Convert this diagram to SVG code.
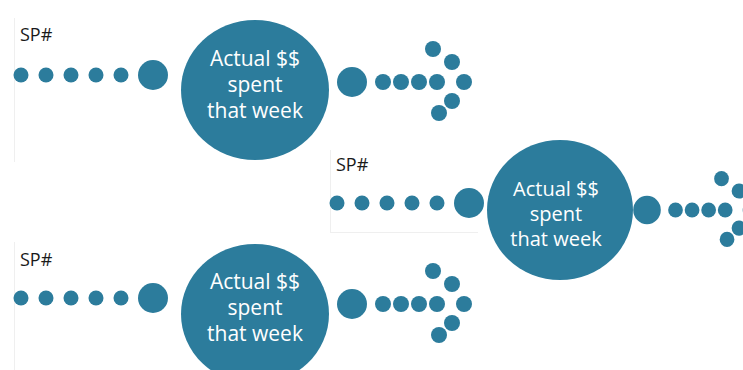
<svg xmlns="http://www.w3.org/2000/svg" width="743" height="370" viewBox="0 0 743 370">
<style>
.bg{fill:#ffffff}
.edge{stroke:#efefef;stroke-width:1;fill:none}
.dot{fill:#2c7c9c}
.big{fill:#2c7c9c}
.lbl{font-family:"Open Sans","Noto Sans",sans-serif;font-size:18px;fill:#1a1a1a}
.ct{font-family:"Open Sans","Noto Sans",sans-serif;font-size:21px;fill:#ffffff;text-anchor:middle}
.ct2{font-family:"Open Sans","Noto Sans",sans-serif;font-size:20px;fill:#ffffff;text-anchor:middle}
</style>
<defs>
<g id="chain">
<circle class="dot" cx="0" cy="0" r="7.5"/>
<circle class="dot" cx="25" cy="0" r="7.5"/>
<circle class="dot" cx="50" cy="0" r="7.5"/>
<circle class="dot" cx="75" cy="0" r="7.5"/>
<circle class="dot" cx="100" cy="0" r="7.5"/>
<circle class="dot" cx="132" cy="0" r="15"/>
</g>
<g id="arrow">
<circle class="dot" cx="0" cy="0" r="15"/>
<circle class="dot" cx="31" cy="0" r="8"/>
<circle class="dot" cx="49" cy="0" r="8"/>
<circle class="dot" cx="67" cy="0" r="8"/>
<circle class="dot" cx="85" cy="0" r="8"/>
<circle class="dot" cx="112" cy="0" r="8"/>
<circle class="dot" cx="81" cy="-33" r="8"/>
<circle class="dot" cx="100" cy="-20" r="8"/>
<circle class="dot" cx="100" cy="19" r="8"/>
<circle class="dot" cx="87" cy="31" r="8"/>
</g>
</defs>
<rect class="bg" x="0" y="0" width="743" height="370"/>
<g id="frames">
<line class="edge" x1="14.5" y1="18" x2="14.5" y2="162"/>
<line class="edge" x1="14.5" y1="242" x2="14.5" y2="370"/>
<line class="edge" x1="330.5" y1="150" x2="330.5" y2="232"/>
<line class="edge" x1="330" y1="232.5" x2="478" y2="232.5"/>
</g>
<g id="connectors">
<use href="#chain" x="21" y="75"/>
<use href="#arrow" x="352" y="82"/>
<use href="#chain" x="337" y="203"/>
<g transform="translate(647,210) scale(0.92,0.95)"><use href="#arrow"/></g>
<use href="#chain" x="21" y="298"/>
<use href="#arrow" x="352" y="304"/>
</g>
<g id="sp1"><text class="lbl" x="20" y="41">SP#</text></g>
<g id="sp2"><text class="lbl" x="336" y="171">SP#</text></g>
<g id="sp3"><text class="lbl" x="20" y="266">SP#</text></g>
<g id="week1">
<ellipse class="big" cx="255" cy="90" rx="74" ry="70"/>
<text class="ct" x="255" y="66">Actual $$</text>
<text class="ct" x="255" y="92">spent</text>
<text class="ct" x="255" y="118">that week</text>
</g>
<g id="week2">
<ellipse class="big" cx="560" cy="210" rx="73" ry="70"/>
<text class="ct2" x="556" y="196">Actual $$</text>
<text class="ct2" x="556" y="221">spent</text>
<text class="ct2" x="556" y="246">that week</text>
</g>
<g id="week3">
<ellipse class="big" cx="255" cy="314" rx="74" ry="70"/>
<text class="ct" x="255" y="289">Actual $$</text>
<text class="ct" x="255" y="315">spent</text>
<text class="ct" x="255" y="341">that week</text>
</g>
</svg>
